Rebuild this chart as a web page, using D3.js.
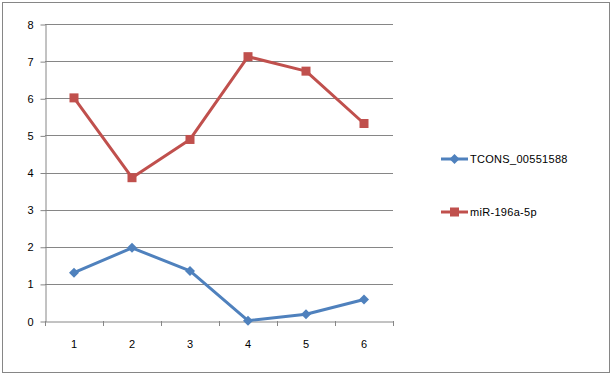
<!DOCTYPE html>
<html>
<head>
<meta charset="utf-8">
<script src="https://cdn.jsdelivr.net/npm/d3@7"></script>
<style>
  body { margin: 0; background: #fff; }
  text { font-family: "Liberation Sans", Arial, sans-serif; font-size: 11px; fill: #000; }
</style>
</head>
<body>
<div id="chart"></div>
<script>
'use strict';

var categories = ['1', '2', '3', '4', '5', '6'];
var seriesNames = ['TCONS_00551588', 'miR-196a-5p'];
var tconsValues = [1.30, 1.97, 1.35, 0.01, 0.18, 0.58];
var mirValues = [6.01, 3.86, 4.89, 7.12, 6.73, 5.32];
var yTicks = [0, 1, 2, 3, 4, 5, 6, 7, 8];

var width = 612, height = 375;
var margin = { left: 45, top: 24, right: 219, bottom: 54 };
var gridColor = '#868686';
var colors = ['#4F81BD', '#C0504D'];

var svg = d3.select('#chart').append('svg')
    .attr('width', width)
    .attr('height', height);

// outer chart border
svg.append('rect')
    .attr('x', 2.5).attr('y', 2.5)
    .attr('width', 607).attr('height', 370)
    .attr('fill', '#fff')
    .attr('stroke', gridColor);

var plotRight = width - margin.right;
var plotBottom = height - margin.bottom;

var xScale = d3.scaleBand().domain(categories).range([margin.left, plotRight]);
var yScale = d3.scaleLinear().domain([0, 8]).range([plotBottom, margin.top]);

// horizontal gridlines
svg.append('g').selectAll('line')
    .data(yTicks.slice(1))
    .enter().append('line')
    .attr('x1', margin.left).attr('x2', plotRight)
    .attr('y1', function (d) { return Math.round(yScale(d)) + 0.5; })
    .attr('y2', function (d) { return Math.round(yScale(d)) + 0.5; })
    .attr('stroke', gridColor);

// y axis
var yAxis = d3.axisLeft(yScale).tickValues(yTicks).tickSize(5).tickPadding(7).tickSizeOuter(0);
var yg = svg.append('g')
    .attr('transform', 'translate(' + (margin.left + 0.5) + ',0.5)')
    .call(yAxis);
yg.select('.domain').attr('stroke', gridColor);
yg.selectAll('.tick line').attr('stroke', gridColor);
yg.selectAll('text').style('font-family', null).style('font-size', null).attr('font-size', null).attr('font-family', null);

// x axis: labels centered in bands, ticks on band edges
var xAxis = d3.axisBottom(xScale).tickSize(0).tickPadding(19).tickSizeOuter(0);
var xg = svg.append('g')
    .attr('transform', 'translate(0,' + (plotBottom + 0.5) + ')')
    .call(xAxis);
xg.select('.domain').attr('stroke', gridColor);
xg.selectAll('text').attr('font-size', null).attr('font-family', null);
svg.select('g').attr('font-size', null);
xg.attr('font-size', null).attr('font-family', null);
yg.attr('font-size', null).attr('font-family', null);

var edges = categories.map(function (c) { return xScale(c); }).concat([plotRight]);
svg.append('g').selectAll('line')
    .data(edges)
    .enter().append('line')
    .attr('x1', function (d) { return Math.round(d) + 0.5; })
    .attr('x2', function (d) { return Math.round(d) + 0.5; })
    .attr('y1', plotBottom).attr('y2', plotBottom + 5)
    .attr('stroke', gridColor);

var cx = function (d, i) { return xScale(categories[i]) + xScale.bandwidth() / 2; };
var line = d3.line()
    .x(function (d, i) { return cx(d, i); })
    .y(function (d) { return yScale(d); });

var allSeries = [tconsValues, mirValues];

allSeries.forEach(function (vals, s) {
    svg.append('path')
        .datum(vals)
        .attr('d', line)
        .attr('fill', 'none')
        .attr('stroke', colors[s])
        .attr('stroke-width', 3)
        .attr('stroke-linejoin', 'round');
});

function drawMarker(g, s, x, y) {
    if (s === 0) {
        g.append('path')
            .attr('d', 'M' + x + ',' + (y - 5) + 'L' + (x + 5) + ',' + y + 'L' + x + ',' + (y + 5) + 'L' + (x - 5) + ',' + y + 'Z')
            .attr('fill', colors[s]);
    } else {
        g.append('rect')
            .attr('x', x - 4.5).attr('y', y - 4.5)
            .attr('width', 9).attr('height', 9)
            .attr('fill', colors[s]);
    }
}

var markers = svg.append('g');
allSeries.forEach(function (vals, s) {
    vals.forEach(function (v, i) {
        drawMarker(markers, s, cx(v, i), yScale(v));
    });
});

// legend
var legendY = [159, 212];
var legend = svg.append('g');
seriesNames.forEach(function (name, s) {
    var y = legendY[s];
    legend.append('line')
        .attr('x1', 441).attr('x2', 468)
        .attr('y1', y).attr('y2', y)
        .attr('stroke', colors[s])
        .attr('stroke-width', 3);
    drawMarker(legend, s, 454.5, y);
    legend.append('text')
        .attr('x', 470)
        .attr('y', y + 4)
        .style('letter-spacing', '0.3px')
        .text(name);
});
</script>
</body>
</html>
